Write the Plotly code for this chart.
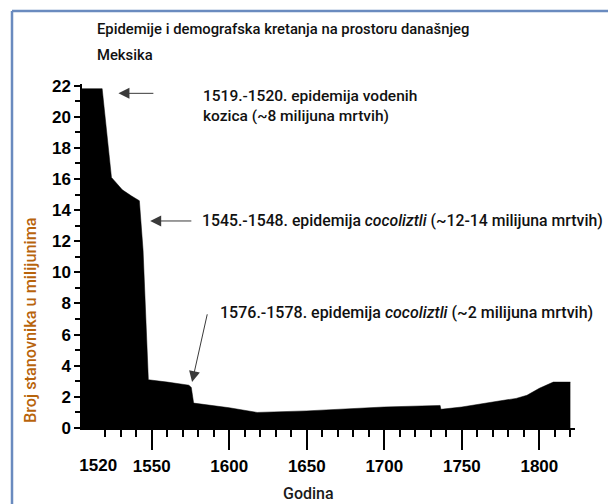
import plotly.graph_objects as go

# ---- data ----
years = [1505, 1518, 1524, 1528, 1531, 1537, 1542, 1544.4, 1546, 1547.8, 1560, 1574, 1575.5, 1576.5, 1577, 1600, 1618,
         1650, 1678, 1700, 1736, 1736.5, 1750, 1764, 1775, 1785, 1792, 1800, 1809, 1819, 1820]
population = [21.8, 21.8, 16.1, 15.6, 15.3, 14.9, 14.6, 11.4, 7.6, 3.1, 2.95, 2.75, 2.6, 2.0, 1.6, 1.3, 1.0,
              1.1, 1.25, 1.35, 1.45, 1.2, 1.35, 1.6, 1.75, 1.9, 2.1, 2.55, 2.95, 2.95, 2.95]

y_ticks = list(range(0, 23, 2))
y_minor = list(range(0, 23, 1))
x_ticks = [1550, 1600, 1650, 1700, 1750, 1800]
x_minor = list(range(1520, 1821, 10))
x_extra_tick = [1520]

title_lines = ["Epidemije i demografska kretanja na prostoru današnjeg", "Meksika"]
y_title = "Broj stanovnika u milijunima"
x_title = "Godina"

events = [
    # (text, text_x, text_y, arrow_head_x, arrow_head_y, arrow_tail_x, arrow_tail_y, font size)
    ("1519.-1520. epidemija vodenih<br>kozica (~8 milijuna mrtvih)", 1581.5, 20.7, 1528.5, 21.5, 1552, 21.5, 15.5),
    ("1545.-1548. epidemija <i>cocoliztli</i> (~12-14 milijuna mrtvih)", 1581, 13.3, 1549, 13.3, 1576.5, 13.3, 15.8),
    ("1576.-1578. epidemija <i>cocoliztli</i> (~2 milijuna mrtvih)", 1593, 7.4, 1576, 2.95, 1586, 7.4, 16),
]

cond = "Roboto, sans-serif"
arial = "Liberation Sans, Arial, sans-serif"
OFF = 8  # browser body margin

fig = go.Figure()
fig.add_trace(go.Scatter(x=years, y=population, mode="lines", fill="tozeroy",
                         fillcolor="black", line=dict(color="black", width=0.5),
                         hoverinfo="skip", showlegend=False))
# invisible trace to activate xaxis2 (1520 label)
fig.add_trace(go.Scatter(x=[years[0]], y=[0], xaxis="x2", mode="markers",
                         marker=dict(opacity=0), showlegend=False, hoverinfo="skip"))

W, H = 616 - OFF, 504 - OFF
xr = [1505, 1823]
fig.update_layout(
    width=W, height=H,
    margin=dict(l=82 - OFF, r=W - (82 - OFF) - 493, t=84 - OFF, b=H - (84 - OFF) - 344),
    paper_bgcolor="white", plot_bgcolor="white",
    xaxis=dict(range=xr, showgrid=False, zeroline=False, showline=True, linecolor="black", linewidth=1.5,
               tickmode="array", tickvals=x_ticks, ticks="outside", ticklen=20, tickwidth=1.5, tickcolor="black",
               ticklabelstandoff=2,
               tickfont=dict(family=arial, size=17, color="black", weight="bold"),
               minor=dict(tickmode="array", tickvals=x_minor, ticks="outside", ticklen=7, tickwidth=1.5, tickcolor="black")),
    xaxis2=dict(range=xr, overlaying="x", anchor="y", side="bottom", showgrid=False, zeroline=False, showline=False,
                tickmode="array", tickvals=x_extra_tick, ticktext=[str(v) for v in x_extra_tick],
                ticks="outside", ticklen=20, tickcolor="rgba(0,0,0,0)", ticklabelstandoff=2, ticklabelshift=-7,
                tickfont=dict(family=arial, size=17, color="black", weight="bold")),
    yaxis=dict(range=[0, 22.1], showgrid=False, zeroline=False, showline=True, linecolor="black", linewidth=1.5,
               tickmode="array", tickvals=y_ticks, ticks="outside", ticklen=6, tickwidth=1.5, tickcolor="black",
               tickfont=dict(family=arial, size=17, color="black", weight="bold"),
               minor=dict(tickmode="array", tickvals=y_minor, ticks="outside", ticklen=5, tickwidth=1.5, tickcolor="black")),
    showlegend=False,
)

# title lines
for line, ypix in zip(title_lines, [29, 55]):
    fig.add_annotation(text=line, xref="paper", yref="paper", x=(95-82)/493, y=(428-ypix)/344,
                       showarrow=False, xanchor="left", yanchor="middle", align="left",
                       font=dict(family=cond, size=14.8, color="#111", weight=500))

# axis titles
fig.add_annotation(text=y_title, xref="paper", yref="paper", x=(30-82)/493, y=(428-320)/344,
                   textangle=-90, showarrow=False, xanchor="center", yanchor="middle",
                   font=dict(family=cond, size=16.3, color="#b8640c", weight=500))
fig.add_annotation(text=x_title, xref="x", yref="paper", x=1651, y=(428-493)/344,
                   showarrow=False, xanchor="center", yanchor="middle",
                   font=dict(family=cond, size=16, color="#1a1a1a", weight=500))

for text, tx, ty, hx, hy, ax, ay, fs in events:
    fig.add_annotation(x=hx, y=hy, ax=ax, ay=ay, xref="x", yref="y", axref="x", ayref="y",
                       text="", showarrow=True, arrowhead=2, arrowsize=2.2, arrowwidth=1,
                       arrowcolor="#3a3a3a")
    fig.add_annotation(x=tx, y=ty, xref="x", yref="y", text=text, showarrow=False,
                       xanchor="left", yanchor="middle", align="left",
                       font=dict(family=cond, size=fs, color="#111", weight=500))

# frame (top & left edges visible)
fx = (12-82)/493
fy = (428-11)/344
fig.add_shape(type="line", xref="paper", yref="paper", x0=fx, y0=-0.3, x1=fx, y1=fy,
              line=dict(color="#6a8bbf", width=2.5))
fig.add_shape(type="line", xref="paper", yref="paper", x0=fx, y0=fy, x1=1.2, y1=fy,
              line=dict(color="#6a8bbf", width=2.5))

fig.write_html("out.html")
